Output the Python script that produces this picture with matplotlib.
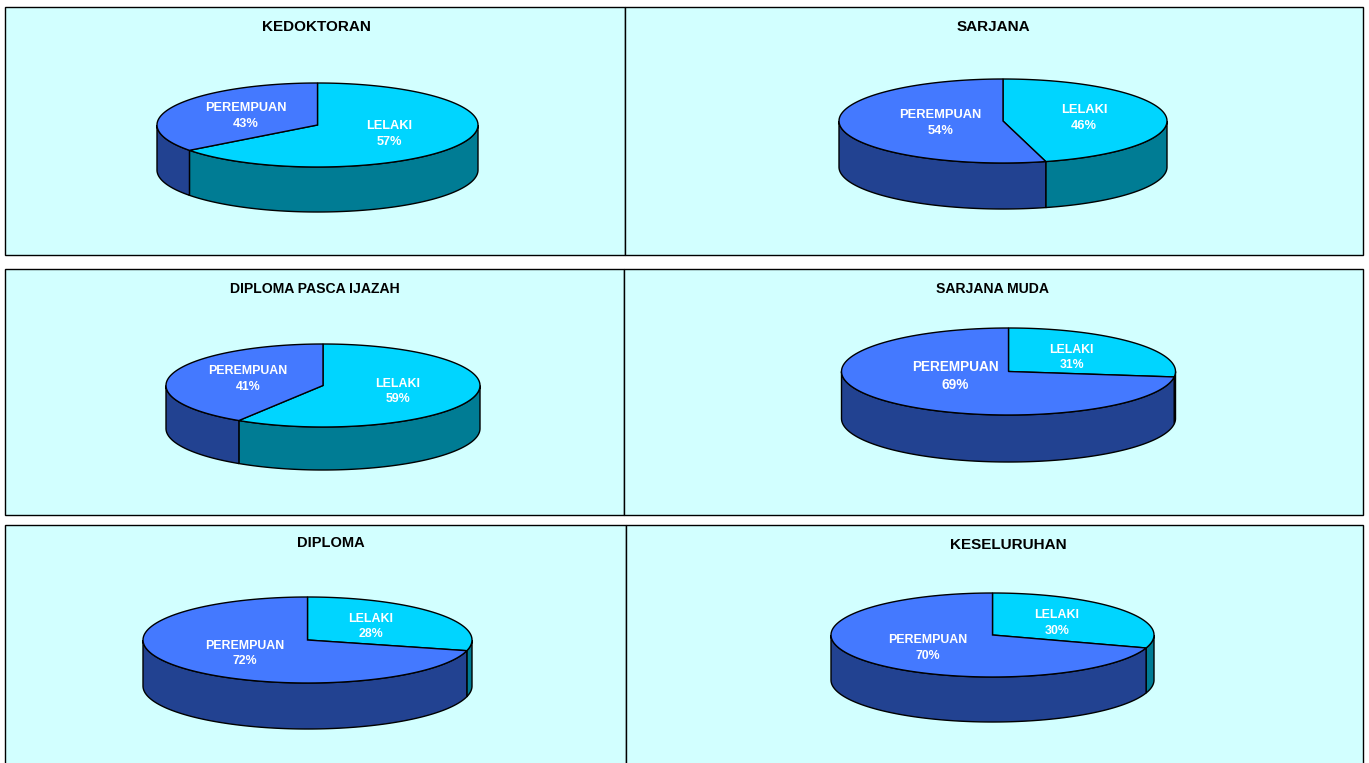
import numpy as np
import matplotlib
matplotlib.use("Agg")
import matplotlib.pyplot as plt
from matplotlib.patches import Polygon, Rectangle

plt.rcParams['font.family'] = ['Liberation Sans', 'DejaVu Sans']

# Chart values
titles = ["KEDOKTORAN", "SARJANA", "DIPLOMA PASCA IJAZAH", "SARJANA MUDA", "DIPLOMA", "KESELURUHAN"]
lelaki_pct = [57, 46, 59, 31, 28, 30]
perempuan_pct = [43, 54, 41, 69, 72, 70]
# slice size as drawn, first and fourth pies do not agree with their printed labels
lelaki_drawn = [64.7, 45.8, 59, 27, 29, 30]

# Layout in pixels
W, H = 1369, 763
panels = [(5, 7, 624.5, 255), (624.5, 7, 1363, 255),
          (5, 269, 624, 515), (624, 269, 1363, 515),
          (5, 525, 625.5, 790), (625.5, 525, 1363, 790)]
pies = [(317.5, 125, 160.5, 42, 45), (1003, 121, 164, 42, 46),
        (323, 385.5, 157, 41.5, 43), (1008.5, 371.5, 167, 43.5, 47),
        (307.5, 640, 164.5, 43, 46), (992.5, 635, 161.5, 42, 45)]
title_pos = [(316, 27), (993, 27), (315, 289), (993, 289), (331, 543), (1008, 545)]
title_size = [11, 11, 10.1, 10.1, 10.5, 11]
lelaki_pos = [(389, 134), (1084, 118), (398, 391.5), (1071.5, 357.5), (371, 626.5), (1057, 623)]
perempuan_pos = [(245.5, 116), (940.5, 123), (248, 379), (955, 376), (244.5, 653.5), (928, 648)]
lelaki_size = [9.2, 9.3, 8.9, 8.8, 8.9, 8.9]
perempuan_size = [9.2, 9.3, 8.9, 9.8, 8.9, 8.9]

BG = "#D2FFFF"
LEL_TOP, LEL_SIDE = "#00D5FF", "#007C94"
PER_TOP, PER_SIDE = "#4479FF", "#224291"
EDGE = "#000000"


def rim(p, a0, a1, n=120):
    # points on the ellipse, angle clockwise from 12 o'clock
    cx, cy, rx, ry, d = p
    t = np.radians(np.linspace(a0, a1, n))
    return np.column_stack([cx + rx * np.sin(t), cy - ry * np.cos(t)])


def draw_side(ax, p, a0, a1, color):
    # only the front half of the wall can be seen
    a0, a1 = max(a0, 90), min(a1, 270)
    if a1 <= a0:
        return
    top = rim(p, a0, a1)
    low = top[::-1] + [0, p[4]]
    ax.add_patch(Polygon(np.vstack([top, low]), closed=True, fc=color, ec=EDGE, lw=1.0, zorder=3))


def draw_pie(ax, p, share):
    split = share * 3.6
    draw_side(ax, p, 0, split, LEL_SIDE)
    draw_side(ax, p, split, 360, PER_SIDE)
    centre = np.array([[p[0], p[1]]])
    ax.add_patch(Polygon(np.vstack([centre, rim(p, 0, split)]), closed=True, fc=LEL_TOP, ec=EDGE, lw=1.0, zorder=4))
    ax.add_patch(Polygon(np.vstack([centre, rim(p, split, 360)]), closed=True, fc=PER_TOP, ec=EDGE, lw=1.0, zorder=4))


def slice_label(ax, pos, name, pct, size):
    # keeps the two lines about 15 px apart whatever the font size
    ax.text(pos[0], pos[1], "%s\n%d%%" % (name, pct), ha="center", va="center", fontsize=size,
            fontweight="bold", color="white", linespacing=1.37 * 9.2 / size, zorder=5)


fig = plt.figure(figsize=(W / 100, H / 100), dpi=100, facecolor="white")
ax = fig.add_axes([0, 0, 1, 1])
ax.set_xlim(0, W)
ax.set_ylim(H, 0)
ax.axis("off")

for x0, y0, x1, y1 in panels:
    ax.add_patch(Rectangle((x0, y0), x1 - x0, y1 - y0, fc=BG, ec=EDGE, lw=1.0, zorder=1))

for i in range(6):
    draw_pie(ax, pies[i], lelaki_drawn[i])
    ax.text(*title_pos[i], titles[i], ha="center", va="center", fontsize=title_size[i], fontweight="bold", color="black", zorder=5)
    slice_label(ax, lelaki_pos[i], "LELAKI", lelaki_pct[i], lelaki_size[i])
    slice_label(ax, perempuan_pos[i], "PEREMPUAN", perempuan_pct[i], perempuan_size[i])

fig.savefig("out.png", dpi=100)
